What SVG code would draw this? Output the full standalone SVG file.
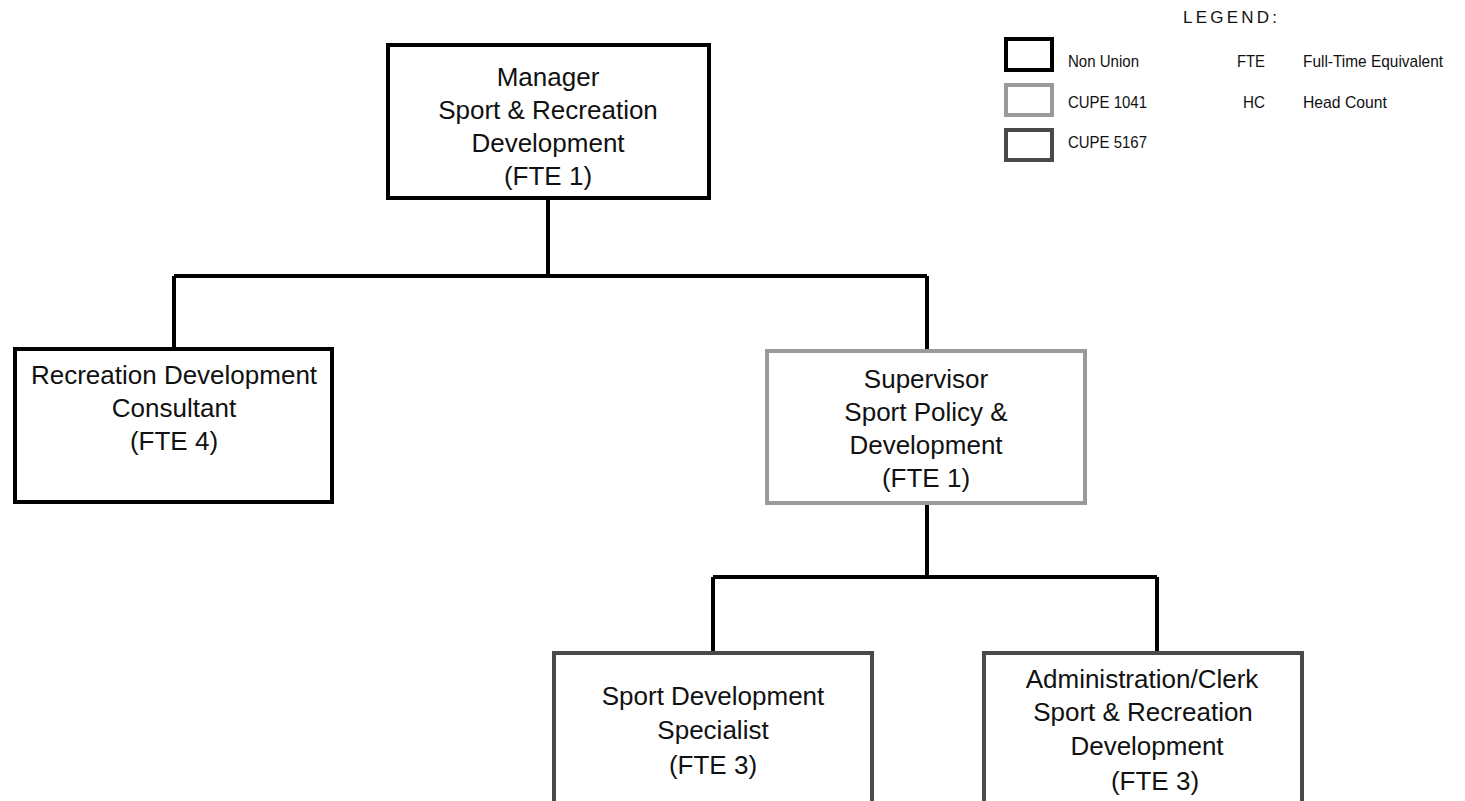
<svg xmlns="http://www.w3.org/2000/svg" width="1465" height="801" viewBox="0 0 1465 801">
<style>
.t{font-family:"Liberation Sans",Arial,sans-serif;font-size:26px;fill:#111;text-anchor:middle}
.l{font-family:"Liberation Sans",Arial,sans-serif;font-size:17px;fill:#111}
.nu{fill:#fff;stroke:#000;stroke-width:4}
.c1{fill:#fff;stroke:#9a9a9a;stroke-width:4}
.c2{fill:#fff;stroke:#4a4a4a;stroke-width:4}
.cn{fill:none;stroke:#000;stroke-width:4}
</style>
<rect width="1465" height="801" fill="#fff"/>
<g id="connectors">
<path class="cn" d="M548 198 V276 M174 276 H927 M174 276 V349 M927 276 V351"/>
<path class="cn" d="M927 503 V577 M713 577 H1157 M713 577 V653 M1157 577 V653"/>
</g>
<g id="manager">
<rect class="nu" x="388" y="45" width="321" height="153"/>
<text class="t" x="548" y="86">Manager</text>
<text class="t" x="548" y="119">Sport &amp; Recreation</text>
<text class="t" x="548" y="152">Development</text>
<text class="t" x="548" y="185">(FTE 1)</text>
</g>
<g id="consultant">
<rect class="nu" x="15" y="349" width="317" height="153"/>
<text class="t" x="174" y="384">Recreation Development</text>
<text class="t" x="174" y="417">Consultant</text>
<text class="t" x="174" y="450">(FTE 4)</text>
</g>
<g id="supervisor">
<rect class="c1" x="767" y="351" width="318" height="152"/>
<text class="t" x="926" y="388">Supervisor</text>
<text class="t" x="926" y="421">Sport Policy &amp;</text>
<text class="t" x="926" y="454">Development</text>
<text class="t" x="926" y="487">(FTE 1)</text>
</g>
<g id="specialist">
<rect class="c2" x="554" y="653" width="318" height="160"/>
<text class="t" x="713" y="705">Sport Development</text>
<text class="t" x="713" y="739">Specialist</text>
<text class="t" x="713" y="774">(FTE 3)</text>
</g>
<g id="clerk">
<rect class="c2" x="984" y="653" width="318" height="160"/>
<text class="t" x="1142" y="688">Administration/Clerk</text>
<text class="t" x="1143" y="721">Sport &amp; Recreation</text>
<text class="t" x="1147" y="755">Development</text>
<text class="t" x="1155" y="790">(FTE 3)</text>
</g>
<g id="legend">
<text class="l" x="1183" y="23" font-size="16" textLength="94" lengthAdjust="spacing">LEGEND:</text>
<rect class="nu" x="1006" y="39" width="46" height="31"/>
<rect class="c1" x="1006" y="85" width="46" height="30"/>
<rect class="c2" x="1006" y="130" width="46" height="30"/>
<text class="l" x="1068" y="67" textLength="71" lengthAdjust="spacingAndGlyphs">Non Union</text>
<text class="l" x="1068" y="108" textLength="79" lengthAdjust="spacingAndGlyphs">CUPE 1041</text>
<text class="l" x="1068" y="148" textLength="79" lengthAdjust="spacingAndGlyphs">CUPE 5167</text>
<text class="l" x="1237" y="67" textLength="28" lengthAdjust="spacingAndGlyphs">FTE</text>
<text class="l" x="1243" y="108" textLength="22" lengthAdjust="spacingAndGlyphs">HC</text>
<text class="l" x="1303" y="67" textLength="140" lengthAdjust="spacingAndGlyphs">Full-Time Equivalent</text>
<text class="l" x="1303" y="108" textLength="84" lengthAdjust="spacingAndGlyphs">Head Count</text>
</g>
</svg>
